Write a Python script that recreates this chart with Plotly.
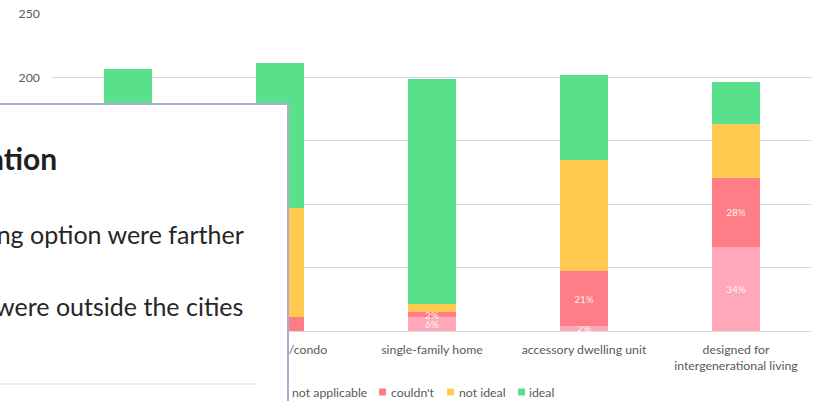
import plotly.graph_objects as go

# Housing-type categories and response counts per category
categories = [
    "retirement community",
    "apartment/condo",
    "single-family home",
    "accessory dwelling unit",
    "designed for<br>intergenerational living",
]
series_names = ["not applicable", "couldn't", "not ideal", "ideal"]
not_applicable = [14, 0, 11, 4, 66]
couldnt = [30, 11, 4, 43, 55]
not_ideal = [70, 86, 6, 88, 42]
ideal = [93, 114, 178, 67, 33]
y_ticks = [0, 50, 100, 150, 200, 250]

colors = ["#FFA8B9", "#FF7D86", "#FFCA4F", "#58E08A"]
labelled = [True, True, False, False]

W, H = 815, 401
L, R, T, B = 52, 3, 14, 70
AXIS_FONT = dict(family="Lato", size=12.3, color="#595959")


def px(x):
    return (x - L) / (W - L - R)


def py(y):
    return (H - B - y) / (H - T - B)


all_series = [not_applicable, couldnt, not_ideal, ideal]
totals = [sum(v) for v in zip(*all_series)]

fig = go.Figure()
for name, vals, col, lab in zip(series_names, all_series, colors, labelled):
    text = None
    if lab:
        text = [f"{v / t:.0%}" if v > 0 else "" for v, t in zip(vals, totals)]
    fig.add_trace(go.Bar(
        x=categories, y=vals, name=name,
        marker=dict(color=col, line=dict(width=0)),
        text=text, textposition="inside", insidetextanchor="middle",
        textangle=0, cliponaxis=False,
        textfont=dict(family="Lato", size=10, color="rgba(255,255,255,0.9)"),
        showlegend=False, hoverinfo="skip",
    ))

fig.update_layout(
    barmode="stack",
    bargap=0.684,
    width=W, height=H,
    margin=dict(l=L, r=R, t=T, b=B),
    paper_bgcolor="white", plot_bgcolor="white",
    font=AXIS_FONT,
    uniformtext=dict(minsize=10, mode="show"),
)
fig.update_yaxes(
    range=[0, 250], tickvals=y_ticks,
    gridcolor="#D9D9D9", gridwidth=1,
    zeroline=True, zerolinecolor="#D9D9D9", zerolinewidth=1,
    showline=False, ticks="", ticklabelstandoff=11,
    tickfont=AXIS_FONT,
)
fig.update_xaxes(
    showline=False, ticks="", ticklabelstandoff=10,
    tickfont=AXIS_FONT,
)

# Legend drawn by hand: small square swatches followed by labels
legend_swatch_x = [280, 379, 447, 518]
legend_text_x = [290, 389, 457, 527]
legend_y = 392
shapes = []
annotations = []
for name, col, sx, tx in zip(series_names, colors, legend_swatch_x, legend_text_x):
    shapes.append(dict(
        type="rect", xref="paper", yref="paper",
        x0=px(sx), x1=px(sx + 7), y0=py(legend_y + 3.5), y1=py(legend_y - 3.5),
        fillcolor=col, line=dict(width=0), layer="above",
    ))
    annotations.append(dict(
        text=name, xref="paper", yref="paper", x=px(tx), y=py(legend_y),
        xanchor="left", yanchor="middle", showarrow=False,
        font=AXIS_FONT,
    ))

# Slide panel laid over the left side of the chart
shapes.append(dict(
    type="rect", xref="paper", yref="paper",
    x0=px(-30), x1=px(288), y0=py(430), y1=py(104),
    fillcolor="white", line=dict(color="#A9ACD4", width=2), layer="above",
))
shapes.append(dict(
    type="line", xref="paper", yref="paper",
    x0=px(-30), x1=px(256), y0=py(384), y1=py(384),
    line=dict(color="#D9D9D9", width=1), layer="above",
))
annotations += [
    dict(text="<b>Housing Situation</b>", xref="paper", yref="paper",
         x=px(59), y=py(158), xanchor="right", yanchor="middle", showarrow=False,
         font=dict(family="Lato", size=30, color="#1F1F1F")),
    dict(text="Respondents whose ideal housing option were farther", xref="paper", yref="paper",
         x=px(246), y=py(234), xanchor="right", yanchor="middle", showarrow=False,
         font=dict(family="Lato", size=25, color="#262626")),
    dict(text="Many of the options they wanted were outside the cities", xref="paper", yref="paper",
         x=px(245), y=py(306), xanchor="right", yanchor="middle", showarrow=False,
         font=dict(family="Lato", size=25, color="#262626")),
]
fig.update_layout(shapes=shapes, annotations=annotations)

fig.write_html("out.html")
